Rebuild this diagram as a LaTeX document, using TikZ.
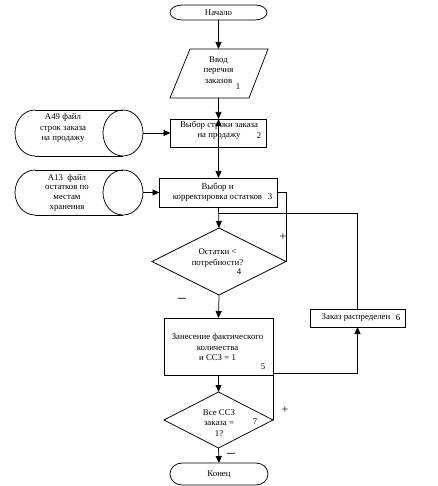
\documentclass[tikz,border=0pt]{standalone}
\usepackage{fontspec}
\setmainfont{Liberation Serif}
\usetikzlibrary{arrows.meta,shapes.geometric,calc}
\begin{document}
\begin{tikzpicture}[x=1pt,y=-1pt,line width=0.75pt,
  txt/.style={font=\fontsize{8.8}{10.3}\selectfont,align=center,inner sep=0pt},
  sign/.style={font=\fontsize{12}{12}\selectfont,inner sep=0pt},
  shp/.style={minimum width=#1,inner sep=0pt,outer sep=0pt},
  boxnode/.style={draw,rectangle,inner sep=0pt,outer sep=0pt},
  decnode/.style={draw,diamond,inner sep=0pt,outer sep=0pt},
  arr/.style={-{Triangle[length=7pt,width=6pt]}}]
\useasboundingbox (0,0) rectangle (437,486);
\fill[white] (0,0) rectangle (437,486);

% terminators
\node[shp=97pt,minimum height=15pt] (start) at (218.5,12.5) {};
\draw (182,5) -- (255,5) arc[start angle=90,end angle=-90,x radius=12pt,y radius=7.5pt]
      -- (182,20) arc[start angle=270,end angle=90,x radius=12pt,y radius=7.5pt];
\node[txt] (tstart) at (218.5,12.5) {Начало};

\node[shp=97pt,minimum height=22pt] (end) at (219,474) {};
\draw (182,463) -- (256,463) arc[start angle=90,end angle=-90,x radius=12pt,y radius=11pt]
      -- (182,485) arc[start angle=270,end angle=90,x radius=12pt,y radius=11pt];
\node[txt] (tend) at (219,474) {Конец};

% parallelogram
\coordinate (pT) at (218.5,49);
\coordinate (pB) at (218.5,98);
\draw (190,49) -- (268,49) -- (249,98) -- (170,98) -- cycle;
\node[txt] (tp) at (218.5,70) {Ввод\\перечня\\заказов};
\node[txt] (tp1) at (238,87) {1};

% boxes
\node[boxnode,minimum width=96pt,minimum height=28pt] (b2) at (218.5,133) {};
\node[txt] (tb2) at (219,130.5) {Выбор строки заказа\\на продажу};
\node[txt] (tb2n) at (259,135.5) {2};

\node[boxnode,minimum width=118pt,minimum height=29pt] (b3) at (218.5,192.5) {};
\node[txt] (tb3) at (217.5,192) {Выбор и\\корректировка остатков};
\node[txt] (tb3n) at (270,197) {3};

\node[decnode,minimum width=134pt,minimum height=67pt] (d4) at (219,261.5) {};
\node[txt] (td4) at (217.5,258) {Остатки <\\потребности?};
\node[txt] (td4n) at (239,272) {4};

\node[boxnode,minimum width=109pt,minimum height=57pt] (b5) at (218.5,346.5) {};
\node[txt] (tb5) at (217.5,347) {Занесение фактического\\количества\\и ССЗ = 1};
\node[txt] (tb5n) at (263,367) {5};

\node[boxnode,minimum width=95pt,minimum height=18pt] (b6) at (357.5,318) {};
\node[txt] (tb6) at (356,318) {Заказ распределен};
\node[txt] (tb6n) at (398,318) {6};

\node[decnode,minimum width=109pt,minimum height=56pt] (d7) at (218.5,420) {};
\node[txt] (td7) at (219,423) {Все ССЗ\\заказа =\\1?};
\node[txt] (td7n) at (255,422) {7};

% data stores
\node[shp=128pt,minimum height=46pt] (c1) at (79,133) {};
\draw (35,110) -- (123,110) (35,156) -- (123,156);
\draw (35,110) arc[start angle=90,end angle=270,x radius=20pt,y radius=23pt];
\draw (123,133) ellipse[x radius=20pt,y radius=23pt];
\node[txt] (tc1) at (63,128) {А49 файл\\строк заказа\\на продажу};

\node[shp=128pt,minimum height=45pt] (c2) at (79,192.5) {};
\draw (35,170) -- (123,170) (35,215) -- (123,215);
\draw (35,170) arc[start angle=90,end angle=270,x radius=20pt,y radius=22.5pt];
\draw (123,192.5) ellipse[x radius=20pt,y radius=22.5pt];
\node[txt,font=\fontsize{8.8}{9.7}\selectfont] (tc2) at (67,192.5) {А13\ \ файл\\остатков по\\местам\\хранения};

% junctions
\coordinate (j1) at (218.5,213);
\coordinate (j2) at (273,373);

% connectors
\draw[arr] (start.south) -- (pT);
\draw[arr] (pB) -- (b2.north);
\draw[arr] (b2.south) -- (b2.north);
\draw[arr] (b2.south) -- (b3.north);
\draw[arr] (b3.south) -- (d4.north);
\draw (b6.north) |- (j1);
\draw (d4.east) |- (b3.east);
\draw[arr] (d4.south) -- (b5.north);
\draw[arr] (b5.south) -- (d7.north);
\draw[arr] (d7.east) -- (j2) -| (b6.south);
\draw[arr] (d7.south) -- (end.north);
\draw[arr] (c1.east) -- (b2.west);
\draw[arr] (c2.east) -- (b3.west);

% branch labels
\node[sign] (plus4) at (283,237) {+};
\node[sign,font=\fontsize{16}{16}\selectfont] (minus4) at (182,300) {–};
\node[sign] (plus7) at (285,410) {+};
\node[sign,font=\fontsize{16}{16}\selectfont] (minus7) at (231,455) {–};
\end{tikzpicture}
\end{document}
